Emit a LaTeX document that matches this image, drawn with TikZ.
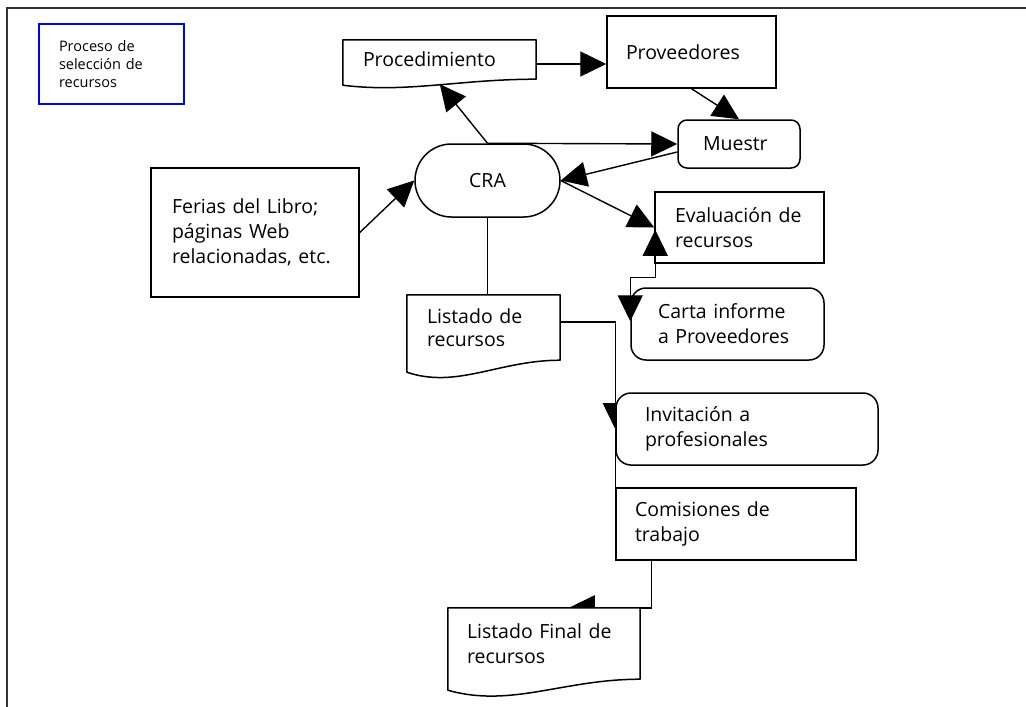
\documentclass[tikz,border=0pt]{standalone}
\usepackage{fontspec}
\setmainfont{Open Sans}
\usetikzlibrary{arrows.meta,calc,backgrounds}
\pgfdeclarelayer{bg}
\pgfdeclarelayer{shp}
\pgfsetlayers{bg,shp,main}
\newcommand\mainfs{\fontsize{19.5}{25}\selectfont}
\newcommand\smallfs{\fontsize{14.5}{18}\selectfont}
\begin{document}
\begin{tikzpicture}[x=1pt,y=1pt,
  box/.style={rectangle, draw, line width=1.5pt, fill=white, align=left, inner ysep=0pt, font=\mainfs},
  doc/.style={rectangle, draw=none, align=left, inner ysep=0pt, font=\mainfs},
  docline/.style={draw, line width=1.5pt, fill=white, line join=round},
  conn/.style={line width=1.4pt},
  arr/.style={conn, -{Triangle[length=26pt,width=25pt]}},
  barr/.style={conn, {Triangle[length=26pt,width=25pt]}-{Triangle[length=26pt,width=25pt]}},
]
\useasboundingbox (0,0) rectangle (1026,-707);
\draw[line width=2pt, draw=black!80] (7,-707) -- (7,-8) -- (1026,-8);

\node[box, draw=blue, font=\smallfs, minimum width=145pt, minimum height=80pt, text width=105pt, inner xsep=20pt] (title) at (111.5,-64) {\mbox{Proceso de}\\\mbox{selección de}\\\mbox{recursos}};
\node[doc, minimum width=193pt, minimum height=39pt, text width=153pt, inner xsep=20pt] (proc) at (439.5,-59.5) {\raisebox{-3.5pt}{Procedimiento}};
\node[box, minimum width=169pt, minimum height=72pt, text width=131pt, inner xsep=19pt] (prov) at (691.5,-52) {Proveedores};
\node[box, rounded corners=9pt, minimum width=122pt, minimum height=48pt, text width=72pt, inner xsep=25pt] (muestr) at (739,-144) {Muestr};
\node[box, rounded corners=36.5pt, align=center, minimum width=145pt, minimum height=73pt, inner xsep=0pt] (cra) at (487.5,-180.5) {CRA};
\node[box, minimum width=208pt, minimum height=129pt, text width=166pt, inner xsep=21pt] (ferias) at (255,-232.5) {\mbox{Ferias del Libro;}\\\mbox{páginas Web}\\\mbox{relacionadas, etc.}};
\node[box, minimum width=169pt, minimum height=71pt, text width=129pt, inner xsep=20pt] (eval) at (739.5,-227.5) {\mbox{Evaluación de}\\\mbox{recursos}};
\node[box, rounded corners=15pt, minimum width=193pt, minimum height=72pt, text width=139pt, inner xsep=27pt] (carta) at (727.5,-324) {\mbox{Carta informe}\\\mbox{a Proveedores}};
\node[doc, minimum width=153pt, minimum height=65pt, text width=113pt, inner xsep=20pt] (listado) at (483.5,-327.5) {\raisebox{-2pt}{\mbox{Listado de}}\\\mbox{recursos}};
\node[box, rounded corners=15pt, minimum width=262pt, minimum height=72pt, text width=204pt, inner xsep=29pt] (invit) at (747,-429) {\mbox{Invitación a}\\\mbox{profesionales}};
\node[box, minimum width=240pt, minimum height=72pt, text width=202pt, inner xsep=19pt] (comis) at (736,-524) {\mbox{Comisiones de}\\\mbox{trabajo}};
\node[doc, minimum width=192pt, minimum height=71pt, text width=154pt, inner xsep=19pt] (listf) at (544,-643.5) {\mbox{Listado Final de}\\\mbox{recursos}};

\begin{pgfonlayer}{shp}
\path[docline] (proc.north west) -- (proc.north east) -- (proc.south east)
  .. controls ([xshift=-77pt]proc.south east) and ([xshift=64pt,yshift=-14pt]proc.south west) .. ([yshift=-6pt]proc.south west) -- cycle;
\path[docline] (listado.north west) -- (listado.north east) -- (listado.south east)
  .. controls ([xshift=-61pt]listado.south east) and ([xshift=50pt,yshift=-29pt]listado.south west) .. ([yshift=-12pt]listado.south west) -- cycle;
\path[docline] (listf.north west) -- (listf.north east) -- (listf.south east)
  .. controls ([xshift=-77pt]listf.south east) and ([xshift=63pt,yshift=-29pt]listf.south west) .. ([yshift=-11pt]listf.south west) -- cycle;
\end{pgfonlayer}

\begin{pgfonlayer}{bg}
\coordinate (le) at ($(listado.north east)+(0,-27)$);
\draw[arr] (le) -| (invit.west);
\draw[conn] (invit.west) -- (comis.north west);
\coordinate (cs) at ($(comis.south west)+(36,0)$);
\coordinate (lt) at ($(listf.north west)+(121,0)$);
\draw[arr] (cs) |- (lt);
\end{pgfonlayer}

\coordinate (pt) at ($(proc.south west)+(97,-5)$);
\draw[arr] (cra.north) -- (pt);
\coordinate (pe) at ($(proc.east)+(0,-4.5)$);
\draw[arr] (pe) -- (pe -| prov.west);
\draw[arr] (prov.south) -- (muestr.north);
\draw[arr] (cra.north) -- (muestr.west);
\coordinate (mw) at ($(muestr.west)+(0,-8)$);
\draw[arr] (mw) -- (cra.east);
\draw[arr] (cra.east) -- (eval.west);
\draw[arr] (ferias.east) -- (cra.west);
\draw[conn] (cra.south) -- (cra.south |- listado.north);
\coordinate (ca) at ($(carta.north west)+(0,-34)$);
\coordinate (eb) at ($(eval.south west)+(1,34)$);
\coordinate (em) at ($(eval.south west)+(0,-14)$);
\draw[barr] (ca) -- (ca |- em) -- (eb |- em) -- (eb);
\end{tikzpicture}
\end{document}
